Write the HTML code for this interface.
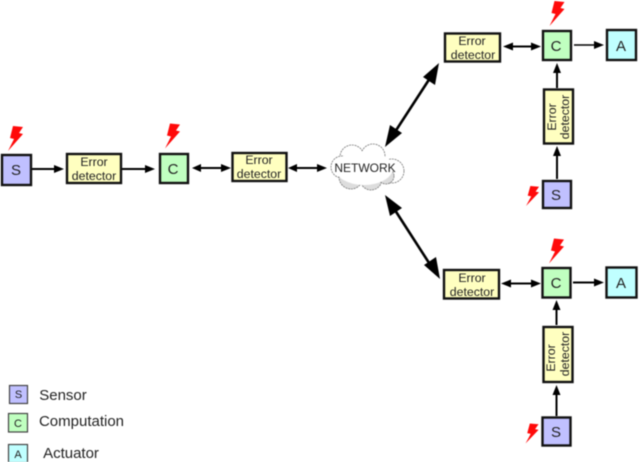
<!DOCTYPE html>
<html><head><meta charset="utf-8"><style>
html,body{margin:0;padding:0;background:#fff}
svg{display:block;filter:blur(.4px)}
text{font-family:"Liberation Sans",sans-serif;fill:#222;text-anchor:middle}
.b{stroke:#111;stroke-width:2.4}
.y{fill:#ffffc0}.s{fill:#c0c0ff}.c{fill:#c0ffc0}.a{fill:#c0ffff}
.l{stroke:#000;stroke-width:2;fill:none}
.t{stroke:#000;stroke-width:2.600;fill:none}
.k{fill:#000}
.f{fill:#ff0a0a}
</style></head><body>
<svg width="640" height="462" viewBox="0 0 640 462" xmlns="http://www.w3.org/2000/svg">
<defs>
<path id="z" d="M5 0L15 1L11 7L15 8L0 25L6 13L2 12Z"/>
</defs>
<!-- lightning -->
<use href="#z" class="f" x="8" y="126"/>
<use href="#z" class="f" x="165" y="123.500"/>
<use href="#z" class="f" x="549.500" y="1"/>
<use href="#z" class="f" x="549" y="238.500"/>
<use href="#z" transform="translate(526,186) scale(.87,.8)" class="f"/>
<use href="#z" transform="translate(525.500,423.500) scale(.87,.8)" class="f"/>

<!-- left arrows -->
<path class="l" d="M31 169H57M121 169H147M197 168H223M292 168H320"/>
<path class="k" d="M64 169L54 165V173ZM155 169L145 165V173ZM192 168L201 164V172ZM231 168L221 164V172ZM288 168L297 164V172ZM327 168L317 164V172Z"/>
<!-- top right -->
<path class="l" d="M508 46.500H535"/>
<path class="k" d="M503 46.500L513 42.500V50.500ZM541 46.500L531 42.500V50.500Z"/>
<path stroke="#000" stroke-width="1.500" d="M574 45H597" fill="none"/>
<path class="k" d="M604 45L594 41V49Z"/>
<path class="l" d="M557 88V70M557 179V155"/>
<path class="k" d="M557 63L553 73H561ZM557 146L553 156H561Z"/>
<!-- bottom right -->
<path class="l" d="M505 283.500H535"/>
<path class="k" d="M501 283.500L511 279.500V287.500ZM541 283.500L531 279.500V287.500Z"/>
<path class="l" d="M573 282.500H597"/>
<path class="k" d="M604 282.500L594 278.500V286.500Z"/>
<path class="l" d="M556.500 325V306M556.500 416V394"/>
<path class="k" d="M556.500 300L552.500 310H560.500ZM556.500 385L552.500 395H560.500Z"/>
<!-- network diagonals -->
<path class="t" d="M432 75L393 135"/>
<path class="k" d="M439 63L423 77L435 85ZM385 147L402 133L390 125Z"/>
<path class="t" d="M393 207L431 266"/>
<path class="k" d="M385 195L390 216L402 208ZM440 279L436 257L424 265Z"/>

<!-- cloud -->
<g fill="#fff" stroke="#777" stroke-width=".8" stroke-dasharray="2 .8">
<circle cx="352" cy="157" r="12"/><circle cx="373" cy="156" r="12"/>
<circle cx="342" cy="167" r="11"/><circle cx="392" cy="171" r="12"/>
<circle cx="351" cy="177" r="12" fill="#ddd"/><circle cx="371" cy="179" r="11" fill="#ddd"/><circle cx="386" cy="176" r="8" fill="#ddd"/>
</g>
<ellipse cx="364" cy="168" rx="29" ry="17" fill="#fff"/>
<text x="365" y="172" font-size="12">NETWORK</text>

<!-- boxes -->
<rect class="b s" x="2" y="155" width="29" height="30"/>
<text x="16" y="175" font-size="15">S</text>
<rect class="b y" x="67" y="154" width="54" height="29"/>
<text x="94" y="166" font-size="12.300">Error</text><text x="94" y="180" font-size="12.300">detector</text>
<rect class="b c" x="160" y="154" width="28" height="29"/>
<text x="173" y="174" font-size="15">C</text>
<rect class="b y" x="232.500" y="153" width="54" height="28"/>
<text x="259" y="164" font-size="12.300">Error</text><text x="259" y="178" font-size="12.300">detector</text>

<rect class="b y" x="445" y="33.500" width="55" height="28"/>
<text x="472" y="45" font-size="12.300">Error</text><text x="473" y="59" font-size="12.300">detector</text>
<rect class="b c" x="543" y="31" width="28" height="29"/>
<text x="556" y="51" font-size="15">C</text>
<rect class="b a" x="607" y="30" width="29" height="30"/>
<text x="621" y="51" font-size="15">A</text>
<rect class="b y" x="544" y="89.500" width="29" height="54"/>
<text transform="translate(556,117) rotate(-90)" font-size="12.300">Error</text>
<text transform="translate(569,117) rotate(-90)" font-size="12.300">detector</text>
<rect class="b s" x="543" y="181" width="28" height="27"/>
<text x="556" y="200" font-size="15">S</text>

<rect class="b y" x="444" y="270" width="55" height="28.500"/>
<text x="472" y="282" font-size="12.300">Error</text><text x="472" y="296" font-size="12.300">detector</text>
<rect class="b c" x="542.500" y="268" width="28" height="29.500"/>
<text x="556" y="288" font-size="15">C</text>
<rect class="b a" x="606.500" y="267.500" width="30" height="30"/>
<text x="621" y="288" font-size="15">A</text>
<rect class="b y" x="543.500" y="327" width="29" height="55"/>
<text transform="translate(555,358) rotate(-90)" font-size="12.300">Error</text>
<text transform="translate(569,354) rotate(-90)" font-size="12.300">detector</text>
<rect class="b s" x="542.500" y="417.500" width="28" height="28"/>
<text x="556" y="437" font-size="15">S</text>

<!-- legend -->
<g stroke="#444" stroke-width="1.200">
<rect class="s" x="9.500" y="385.500" width="18" height="18"/>
<rect class="c" x="8.500" y="413.500" width="19" height="18.500"/>
<rect class="a" x="8.500" y="444.500" width="19" height="18"/>
</g>
<text x="18.500" y="398" font-size="11">S</text>
<text x="18" y="427" font-size="11">C</text>
<text x="18" y="458" font-size="11">A</text>
<g font-size="15">
<text x="63" y="400">Sensor</text>
<text x="81.500" y="426">Computation</text>
<text x="71" y="458">Actuator</text>
</g>
</svg>
</body></html>
